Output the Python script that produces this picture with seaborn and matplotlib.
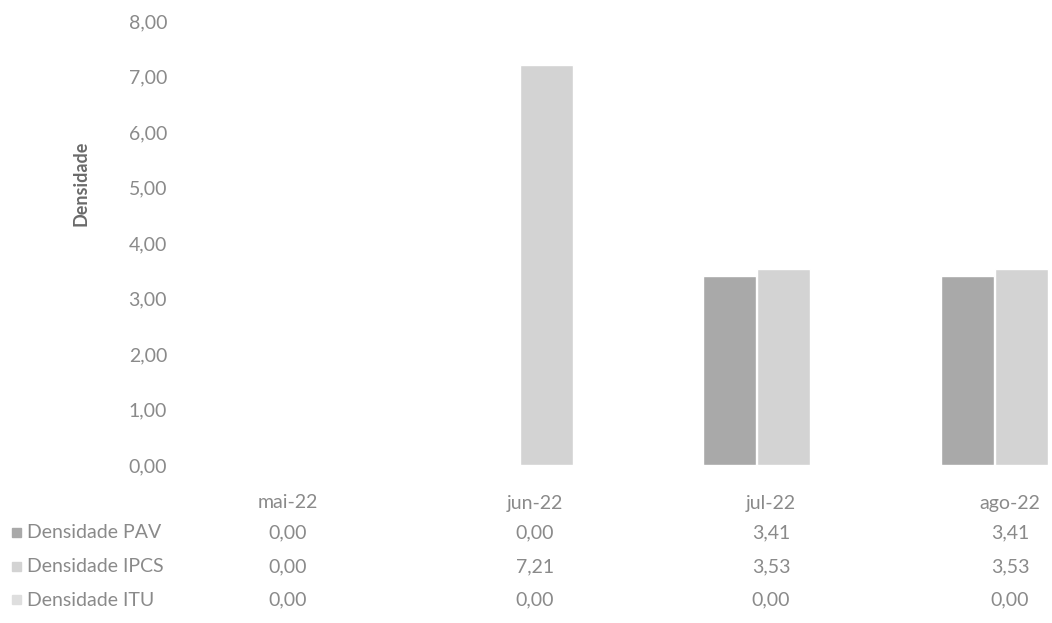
import matplotlib
matplotlib.use("Agg")
import matplotlib.pyplot as plt
import matplotlib.patches as mpatches
import seaborn as sns
import pandas as pd

months = ["mai-22", "jun-22", "jul-22", "ago-22"]
series = ["Densidade PAV", "Densidade IPCS", "Densidade ITU"]
pav = [0.00, 0.00, 3.41, 3.41]
ipcs = [0.00, 7.21, 3.53, 3.53]
itu = [0.00, 0.00, 0.00, 0.00]
y_ticks = [0, 1, 2, 3, 4, 5, 6, 7, 8]

colors = ["#a9a9a9", "#d3d3d3", "#dedede"]
text_gray = "#8a8a8a"

rows = []
for name, vals in zip(series, [pav, ipcs, itu]):
    for m, v in zip(months, vals):
        rows.append({"mes": m, "serie": name, "valor": v})
df = pd.DataFrame(rows)

sns.set_style("white")
plt.rcParams["font.family"] = ["Lato", "DejaVu Sans"]

W, H = 1052, 623
fig = plt.figure(figsize=(W / 100, H / 100), dpi=100)
# plot area in pixels: left 190, top 21, bottom 465 (right side is cut off in the scan)
ax = fig.add_axes([190 / W, 1 - 465 / H, (W - 190) / W, (465 - 21) / H])

sns.barplot(data=df, x="mes", y="valor", hue="serie", hue_order=series,
            palette=colors, width=0.68, gap=0.02, ax=ax, legend=False,
            saturation=1, errorbar=None)

ax.set_ylim(0, 8)
ax.set_xlim(-0.5, 3.13)
ax.set_yticks(y_ticks)
ax.set_yticklabels([f"{t:.2f}".replace(".", ",") for t in y_ticks])
ax.tick_params(axis="y", length=0, pad=16.5, labelsize=14, labelcolor=text_gray)
ax.set_xticks([])
ax.set_xlabel("")
ax.set_ylabel("")
for s in ax.spines.values():
    s.set_visible(False)

fig.text(81 / W, 1 - 183 / H, "Densidade", rotation=90, ha="center", va="center",
         fontsize=13, fontweight="bold", color="#6a6a6a")

# data table below the chart
col_x = [288, 535, 771, 1010]
head_y = 503
row_y = [533, 567, 600]
for x, m in zip(col_x, months):
    fig.text(x / W, 1 - head_y / H, m, ha="center", va="center", fontsize=14, color=text_gray)
for y, name, vals, c in zip(row_y, series, [pav, ipcs, itu], colors):
    fig.patches.append(mpatches.Rectangle((12 / W, 1 - (y + 4) / H), 9 / W, 9 / H,
                                          transform=fig.transFigure, color=c))
    fig.text(27 / W, 1 - y / H, name, ha="left", va="center", fontsize=14, color=text_gray)
    for x, v in zip(col_x, vals):
        fig.text(x / W, 1 - y / H, f"{v:.2f}".replace(".", ","), ha="center", va="center",
                 fontsize=14, color=text_gray)

fig.savefig("out.png", dpi=100, facecolor="white")
